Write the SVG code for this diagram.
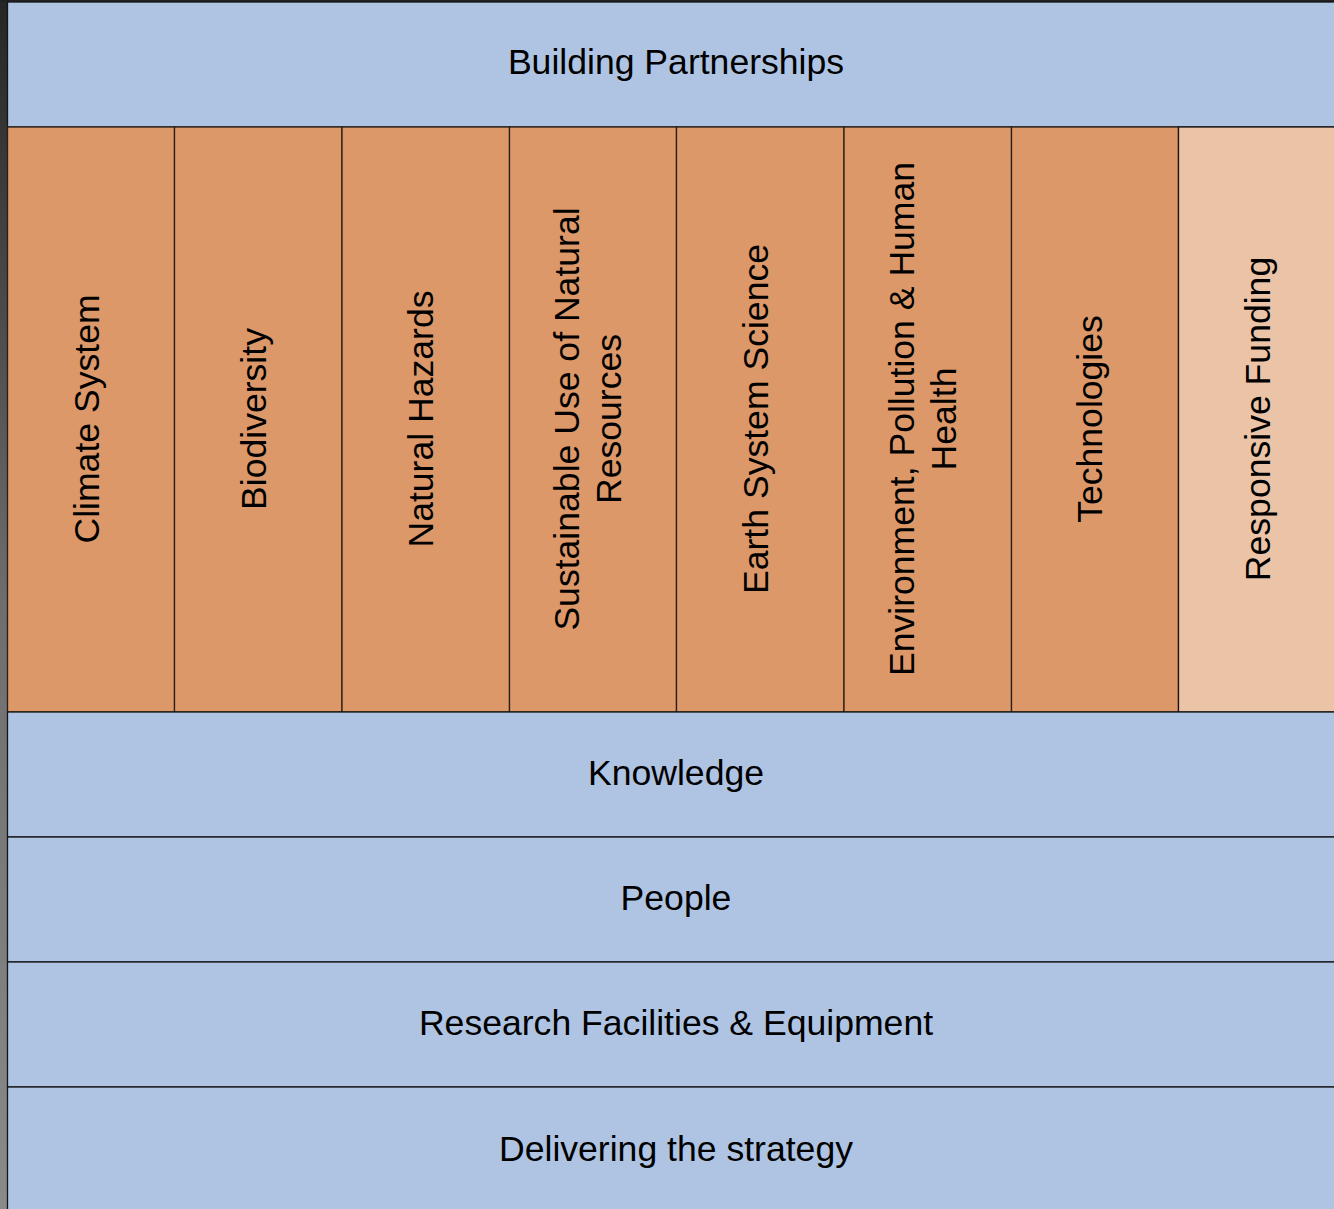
<svg xmlns="http://www.w3.org/2000/svg" width="1334" height="1209" viewBox="0 0 1334 1209">
  <defs>
    <linearGradient id="strip" x1="0" y1="0" x2="0" y2="1">
      <stop offset="0" stop-color="#262626"/>
      <stop offset="0.5" stop-color="#6e6e6e"/>
      <stop offset="1" stop-color="#8a8a8a"/>
    </linearGradient>
  </defs>
  <style>
    .band { fill: #afc4e3; stroke: #151515; stroke-width: 1.3; }
    .theme { fill: #dc9869; stroke: #2a1f18; stroke-width: 1.3; }
    .light { fill: #ebc4a8; stroke: #151515; stroke-width: 1.3; }
    .lbl { font-family: "Liberation Sans", Arial, sans-serif; font-size: 35.6px; fill: #000; text-anchor: middle; dominant-baseline: central; }
  </style>
  <rect x="0" y="0" width="1334" height="1209" fill="url(#strip)"/>
  <rect x="0" y="0" width="1334" height="2" fill="#222"/>

  <g id="building-partnerships">
    <rect class="band" x="7.5" y="2" width="1330" height="125"/>
    <text class="lbl" x="676" y="62">Building Partnerships</text>
  </g>

  <g id="climate-system">
    <rect class="theme" x="7.5" y="127" width="167" height="585"/>
    <text class="lbl" transform="translate(87,419) rotate(-90)">Climate System</text>
  </g>
  <g id="biodiversity">
    <rect class="theme" x="174.5" y="127" width="167.5" height="585"/>
    <text class="lbl" transform="translate(254,419) rotate(-90)">Biodiversity</text>
  </g>
  <g id="natural-hazards">
    <rect class="theme" x="342" y="127" width="167.5" height="585"/>
    <text class="lbl" transform="translate(421,419) rotate(-90)">Natural Hazards</text>
  </g>
  <g id="sustainable-use">
    <rect class="theme" x="509.5" y="127" width="167" height="585"/>
    <text class="lbl" transform="translate(588,419) rotate(-90)"><tspan x="0" y="-21">Sustainable Use of Natural</tspan><tspan x="0" y="21">Resources</tspan></text>
  </g>
  <g id="earth-system-science">
    <rect class="theme" x="676.5" y="127" width="167.5" height="585"/>
    <text class="lbl" transform="translate(756,419) rotate(-90)">Earth System Science</text>
  </g>
  <g id="environment-pollution">
    <rect class="theme" x="844" y="127" width="167.5" height="585"/>
    <text class="lbl" transform="translate(923,419) rotate(-90)"><tspan x="0" y="-21">Environment, Pollution &amp; Human</tspan><tspan x="0" y="21">Health</tspan></text>
  </g>
  <g id="technologies">
    <rect class="theme" x="1011.5" y="127" width="167" height="585"/>
    <text class="lbl" transform="translate(1090,419) rotate(-90)">Technologies</text>
  </g>
  <g id="responsive-funding">
    <rect class="light" x="1178.5" y="127" width="160" height="585"/>
    <text class="lbl" transform="translate(1258,419) rotate(-90)">Responsive Funding</text>
  </g>

  <g id="knowledge">
    <rect class="band" x="7.5" y="712" width="1330" height="125"/>
    <text class="lbl" x="676" y="773">Knowledge</text>
  </g>
  <g id="people">
    <rect class="band" x="7.5" y="837" width="1330" height="125"/>
    <text class="lbl" x="676" y="898">People</text>
  </g>
  <g id="research-facilities">
    <rect class="band" x="7.5" y="962" width="1330" height="125"/>
    <text class="lbl" x="676" y="1023">Research Facilities &amp; Equipment</text>
  </g>
  <g id="delivering">
    <rect class="band" x="7.5" y="1087" width="1330" height="130"/>
    <text class="lbl" x="676" y="1149">Delivering the strategy</text>
  </g>

  <g id="connectors"></g>
</svg>
